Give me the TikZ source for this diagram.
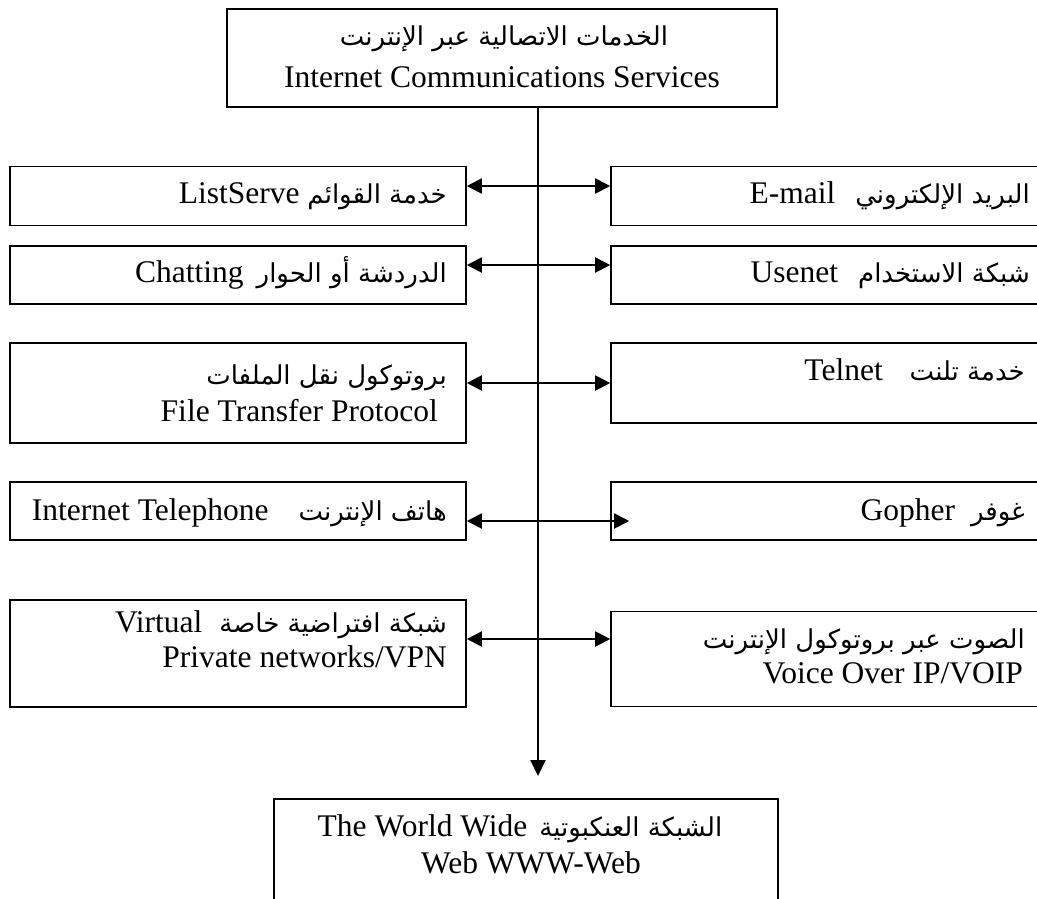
\documentclass[tikz,border=0pt]{standalone}
\usepackage{fontspec}
\setmainfont{Liberation Serif}
\newfontfamily\arabicfont[Script=Arabic]{DejaVu Sans}
\TeXXeTstate=1
\usetikzlibrary{arrows.meta,calc}
\newcommand{\artext}[1]{{\arabicfont\fontsize{26}{30}\selectfont\beginR #1\endR}}
\begin{document}
\begin{tikzpicture}[x=1pt,y=-1pt,
  box/.style={draw, line width=1.6pt, inner sep=0pt, rectangle},
  lbox/.style={box, minimum width=456pt},
  rbox/.style={box, minimum width=436pt},
  txt/.style={inner sep=0pt, font=\fontsize{31.5}{37}\selectfont, text height=22pt, text depth=7pt},
  conn/.style={line width=2pt, {Triangle[length=15pt,width=15pt]}-{Triangle[length=15pt,width=15pt]}},
  trunk/.style={line width=2pt, -{Triangle[length=16pt,width=15pt]}}]
\useasboundingbox (0,0) rectangle (1037,898);
\clip (0,0) rectangle (1037,898);
\fill[white] (0,0) rectangle (1037,898);
% top box
\node[box, minimum width=550pt, minimum height=98pt] (top) at (502,58) {};
\node[txt] (topar) at (504,38) {\artext{الخدمات الاتصالية عبر الإنترنت}};
\node[txt] (topen) at (502,80) {Internet Communications Services};
% left boxes
\node[lbox, minimum height=59pt] (L1) at (238,196) {};
\node[lbox, minimum height=58pt] (L2) at (238,275) {};
\node[lbox, minimum height=100pt] (L3) at (238,393) {};
\node[lbox, minimum height=58pt] (L4) at (238,511) {};
\node[lbox, minimum height=107pt] (L5) at (238,653.5) {};
\node[txt, anchor=east] (L1t) at (447,196) {ListServe \artext{خدمة القوائم}};
\node[txt, anchor=east] (L2t) at (447,275) {Chatting\hspace{13pt}\artext{الدردشة أو الحوار}};
\node[txt, anchor=east] (L3a) at (447,377) {\artext{بروتوكول نقل الملفات}};
\node[txt, anchor=east] (L3b) at (438,414) {File Transfer Protocol};
\node[txt, anchor=east] (L4t) at (447,513) {Internet Telephone\hspace{30pt}\artext{هاتف الإنترنت}};
\node[txt, anchor=east] (L5a) at (447,625) {Virtual\hspace{17pt}\artext{شبكة افتراضية خاصة}};
\node[txt, anchor=east] (L5b) at (447,660) {Private networks/VPN};
% right boxes
\node[rbox, minimum height=59pt] (R1) at (829,196) {};
\node[rbox, minimum height=58pt] (R2) at (829,275) {};
\node[rbox, minimum height=80pt] (R3) at (829,383) {};
\node[rbox, minimum height=58pt] (R4) at (829,511) {};
\node[rbox, minimum height=95pt] (R5) at (829,659) {};
\node[txt, anchor=east] (R1t) at (1030,196) {E-mail\hspace{20pt}\artext{البريد الإلكتروني}};
\node[txt, anchor=east] (R2t) at (1030,275) {Usenet\hspace{20pt}\artext{شبكة الاستخدام}};
\node[txt, anchor=east] (R3t) at (1025,373) {Telnet\hspace{27pt}\artext{خدمة تلنت}};
\node[txt, anchor=east] (R4t) at (1025,513) {Gopher\hspace{16pt}\artext{غوفر}};
\node[txt, anchor=east] (R5a) at (1025,641) {\artext{الصوت عبر بروتوكول الإنترنت}};
\node[txt, anchor=east] (R5b) at (1023,676) {Voice Over IP/VOIP};
% bottom box
\node[box, minimum width=504pt, minimum height=122pt] (bot) at (526,860) {};
\node[txt] (bota) at (520,829) {The World Wide\hspace{12pt}\artext{الشبكة العنكبوتية}};
\node[txt] (botb) at (531,866) {Web WWW-Web};
% connectors
\coordinate (tip) at (538,776);
\coordinate (a1) at (538,186);
\coordinate (a2) at (538,265);
\coordinate (a3) at (538,383);
\coordinate (a4) at (538,521);
\coordinate (a5) at (538,639);
\draw[trunk] (top.south -| tip) -- (tip);
\draw[conn] (L1.east |- a1) -- (R1.west |- a1);
\draw[conn] (L2.east |- a2) -- (R2.west |- a2);
\draw[conn] (L3.east |- a3) -- (R3.west |- a3);
\draw[conn] (L4.east |- a4) -- ($(R4.west |- a4)+(19,0)$);
\draw[conn] (L5.east |- a5) -- (R5.west |- a5);
\end{tikzpicture}
\end{document}
